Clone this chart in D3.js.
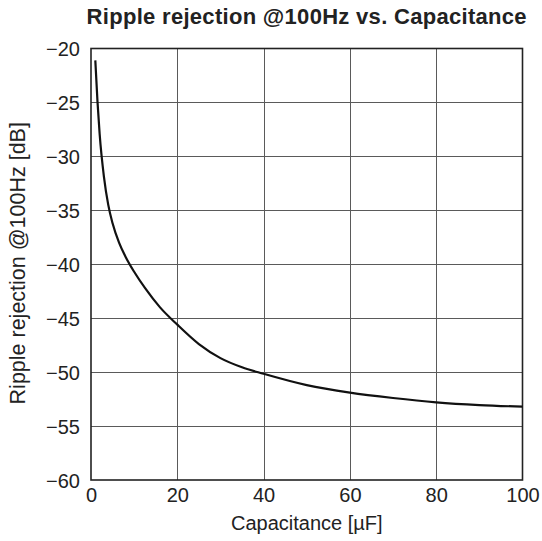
<!DOCTYPE html>
<html>
<head>
<meta charset="utf-8">
<script src="https://cdn.jsdelivr.net/npm/d3@7/dist/d3.min.js"></script>
<style>
  html, body { margin: 0; padding: 0; background: #fff; }
  svg { display: block; }
  text { font-family: "Liberation Sans", Arial, Helvetica, sans-serif; fill: #222; }
</style>
</head>
<body>
<svg id="chart" width="542" height="541"></svg>
<script>
// Data
const capacitance = [1, 1.5, 2, 3, 4, 5, 6.5, 8, 10, 12.5, 16, 20, 25, 30, 35, 40, 50, 60, 70, 80, 90, 100];
const rejection   = [-21.1, -24.9, -27.9, -31.9, -34.5, -36.2, -38.0, -39.3, -40.7, -42.2, -44.0, -45.6, -47.4, -48.7, -49.55, -50.15, -51.2, -51.9, -52.4, -52.8, -53.05, -53.2];
const xTicks = [0, 20, 40, 60, 80, 100];
const yTicks = [-20, -25, -30, -35, -40, -45, -50, -55, -60];

const title = "Ripple rejection @100Hz vs. Capacitance";
const xTitle = "Capacitance [\u00B5F]";
const yTitle = "Ripple rejection @100Hz [dB]";

const pLeft = 91, pRight = 522.5, pTop = 48.5, pBottom = 480;

const svg = d3.select("#chart");
const x = d3.scaleLinear().domain([0, 100]).range([pLeft, pRight]);
const y = d3.scaleLinear().domain([-60, -20]).range([pBottom, pTop]);

const fmt = d => d < 0 ? "\u2212" + Math.abs(d) : String(d);

// grid
const grid = svg.append("g");
grid.selectAll("line.v").data(xTicks.slice(1, -1)).join("line")
  .attr("x1", d => Math.round(x(d)) + 0.5).attr("x2", d => Math.round(x(d)) + 0.5)
  .attr("y1", pTop).attr("y2", pBottom)
  .attr("stroke", "#5a5a5a").attr("stroke-width", 1);
grid.selectAll("line.h").data(yTicks.slice(1, -1)).join("line")
  .attr("y1", d => Math.round(y(d)) + 0.5).attr("y2", d => Math.round(y(d)) + 0.5)
  .attr("x1", pLeft).attr("x2", pRight)
  .attr("stroke", "#5a5a5a").attr("stroke-width", 1);

// frame
svg.append("rect")
  .attr("x", pLeft).attr("y", pTop)
  .attr("width", pRight - pLeft).attr("height", pBottom - pTop)
  .attr("fill", "none").attr("stroke", "#222").attr("stroke-width", 1.6);

// axes (labels only)
const xAxis = d3.axisBottom(x).tickValues(xTicks).tickFormat(fmt).tickSize(0).tickPadding(0);
const gx = svg.append("g").attr("transform", `translate(0,${pBottom})`).call(xAxis);
gx.select(".domain").remove();
gx.selectAll("text").attr("dy", null).attr("y", 22).attr("font-size", 20)
  .style("font-family", '"Liberation Sans", Arial, sans-serif').attr("fill", "#222");

const yAxis = d3.axisLeft(y).tickValues(yTicks).tickFormat(fmt).tickSize(0).tickPadding(0);
const gy = svg.append("g").attr("transform", `translate(80,0)`).call(yAxis);
gy.select(".domain").remove();
gy.selectAll("text").attr("x", 0).attr("dy", "0.35em").attr("font-size", 20)
  .style("font-family", '"Liberation Sans", Arial, sans-serif').attr("fill", "#222");

// curve
const line = d3.line()
  .x((d, i) => x(capacitance[i]))
  .y(d => y(d))
  .curve(d3.curveMonotoneX);
svg.append("path")
  .datum(rejection)
  .attr("d", line)
  .attr("fill", "none")
  .attr("stroke", "#111")
  .attr("stroke-width", 2.2);

// titles
svg.append("text").attr("x", (pLeft + pRight) / 2).attr("y", 24)
  .attr("text-anchor", "middle").attr("font-weight", "bold").attr("font-size", 22)
  .attr("letter-spacing", 0.3)
  .text(title);
svg.append("text").attr("x", (pLeft + pRight) / 2).attr("y", 530)
  .attr("text-anchor", "middle").attr("font-size", 20)
  .text(xTitle);
svg.append("text").attr("transform", `translate(25,${(pTop + pBottom) / 2 - 1}) rotate(-90)`)
  .attr("text-anchor", "middle").attr("font-size", 21.5)
  .text(yTitle);
</script>
</body>
</html>
